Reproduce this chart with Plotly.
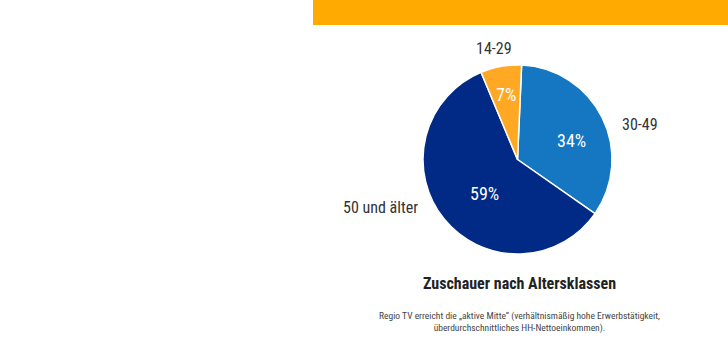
import plotly.graph_objects as go

labels = ["30-49", "50 und älter", "14-29"]
values = [34, 59, 7]
colors = ["#1577C2", "#002A85", "#FFA824"]

title_text = "Zuschauer nach Altersklassen"
subtitle_text = "Regio TV erreicht die „aktive Mitte“ (verhältnismäßig hohe Erwerbstätigkeit,<br>überdurchschnittliches HH-Nettoeinkommen)."

FONT = "Roboto Condensed, Liberation Sans Narrow, DejaVu Sans Condensed, Roboto"
W, H = 728, 360
cx, cy, r = 517.5, 159.5, 94.5
dom_x = [(cx - r) / W, (cx + r) / W]
dom_y = [1 - (cy + r) / H, 1 - (cy - r) / H]

# label anchor positions (pixels): x, y, xanchor
label_pos = {
    "14-29": (494, 48.5, "center"),
    "30-49": (620, 124, "left"),
    "50 und älter": (420, 208, "right"),
}
# percentage text centres (pixels)
pct_pos = {
    "14-29": (505.5, 94.5),
    "30-49": (571, 140.5),
    "50 und älter": (484.5, 193),
}

fig = go.Figure()
fig.add_trace(go.Pie(
    labels=labels, values=values, sort=False, direction="clockwise", rotation=2.5,
    marker=dict(colors=colors, line=dict(color="white", width=1.5)),
    textinfo="none",
    domain=dict(x=dom_x, y=dom_y), showlegend=False, hoverinfo="label+percent",
))
total = sum(values)
for lab, v in zip(labels, values):
    px, py, xa = label_pos[lab]
    fig.add_annotation(text=lab, xref="paper", yref="paper", x=px / W, y=1 - py / H,
                       showarrow=False, xanchor=xa, yanchor="middle",
                       font=dict(family=FONT, size=16, color="#333333"))
    qx, qy = pct_pos[lab]
    fig.add_annotation(text=f"{round(100 * v / total)}%", xref="paper", yref="paper",
                       x=qx / W, y=1 - qy / H, showarrow=False, xanchor="center", yanchor="middle",
                       font=dict(family=FONT, size=18, color="white"))

fig.add_shape(type="rect", xref="paper", yref="paper", x0=313 / W, x1=1, y0=1 - 25 / H, y1=1,
              fillcolor="#FFAA00", line=dict(width=0), layer="below")
fig.add_annotation(text=f"<b>{title_text}</b>", xref="paper", yref="paper", x=519.5 / W, y=1 - 283.5 / H,
                   showarrow=False, font=dict(family=FONT, size=16, color="#222222"),
                   xanchor="center", yanchor="middle")
fig.add_annotation(text=subtitle_text, xref="paper", yref="paper", x=519.5 / W, y=1 - 321.5 / H,
                   showarrow=False, font=dict(family=FONT, size=9.5, color="#444444"),
                   xanchor="center", yanchor="middle", align="center")

fig.update_layout(width=W, height=H, margin=dict(l=0, r=0, t=0, b=0),
                  paper_bgcolor="white", plot_bgcolor="white")
fig.write_html("out.html", config={"displayModeBar": False},
               post_script="document.body.style.margin='0';")
